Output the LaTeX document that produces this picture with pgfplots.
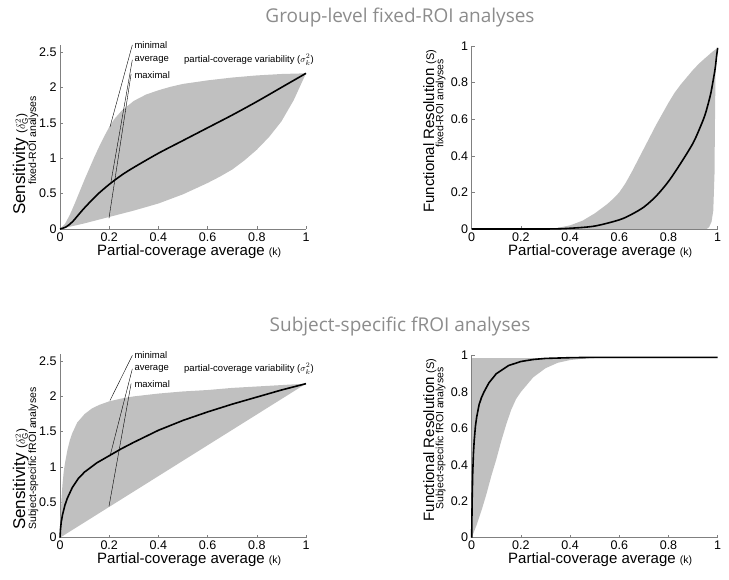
\documentclass[border=0pt]{standalone}
\usepackage{pgfplots}
\pgfplotsset{compat=1.18}
\usepgfplotslibrary{fillbetween}
\usepackage{fontspec}
\setmainfont{Liberation Sans}
\newfontfamily\titlefont{Open Sans}
\definecolor{regionfill}{RGB}{192,192,192}
\definecolor{axgray}{RGB}{128,128,128}
\definecolor{titlegray}{RGB}{140,140,140}
\newcommand{\fs}[1]{\fontsize{#1}{#1}\selectfont}
\tikzset{
  lead/.style={black, line width=0.4pt},
  ann/.style={font=\fs{9.5}, anchor=west, inner sep=1pt},
}
\pgfplotsset{
  panel/.style={
    scale only axis, width=246pt,
    axis lines=left, axis line style={-, axgray, line width=0.6pt},
    tick style={axgray, line width=0.5pt}, tick align=inside, major tick length=3pt,
    xmin=0, xmax=1, xtick={0,0.2,0.4,0.6,0.8,1},
    xticklabels={0,0.2,0.4,0.6,0.8,1},
    ticklabel style={font=\fs{12.5}, /pgf/number format/assume math mode=true},
    clip=false, anchor=south west,
  },
  sens/.style={panel, ymin=0, ymax=2.6, ytick={0,0.5,1,1.5,2,2.5}, yticklabels={0,0.5,1,1.5,2,2.5}},
  fres/.style={panel, ymin=0, ymax=1, ytick={0,0.2,0.4,0.6,0.8,1}, yticklabels={0,0.2,0.4,0.6,0.8,1}},
  meanline/.style={black, line width=1.6pt},
  band/.style={fill=regionfill, draw=none},
}
\begin{document}
\begin{tikzpicture}

% ---------- top-left ----------
\begin{axis}[sens, at={(60pt,351pt)}, height=184pt]
\addplot[name path=up, draw=none] coordinates {(0,0) (0.02,0.07) (0.04,0.2) (0.06,0.36) (0.08,0.53) (0.1,0.7) (0.12,0.86) (0.14,1.02) (0.16,1.17) (0.18,1.31) (0.2,1.44) (0.22,1.55) (0.25,1.67) (0.3,1.81) (0.35,1.9) (0.4,1.96) (0.45,2.01) (0.5,2.05) (0.6,2.1) (0.7,2.14) (0.8,2.17) (0.9,2.19) (1,2.2)};
\addplot[name path=lo, draw=none] coordinates {(0,0) (0.05,0.04) (0.1,0.08) (0.2,0.17) (0.3,0.26) (0.4,0.36) (0.5,0.49) (0.6,0.65) (0.65,0.74) (0.7,0.84) (0.75,0.97) (0.8,1.12) (0.85,1.3) (0.9,1.52) (0.95,1.82) (1,2.2)};
\addplot[band] fill between[of=up and lo];
\addplot[meanline, smooth] coordinates {(0,0) (0.025,0.03) (0.05,0.1) (0.075,0.2) (0.1,0.3) (0.15,0.48) (0.2,0.63) (0.25,0.76) (0.3,0.87) (0.4,1.07) (0.5,1.25) (0.6,1.43) (0.7,1.61) (0.8,1.8) (0.9,2.0) (1,2.2)};
\draw[lead] (axis cs:0.294,2.6) -- (axis cs:0.203,1.44);
\draw[lead] (axis cs:0.294,2.39) -- (axis cs:0.207,0.66);
\draw[lead] (axis cs:0.289,2.19) -- (axis cs:0.199,0.15);
\node[ann] at (axis cs:0.298,2.6) {minimal};
\node[ann] at (axis cs:0.298,2.39) {average};
\node[ann] at (axis cs:0.298,2.18) {maximal};
\node[ann] at (axis cs:0.5,2.39) {partial-coverage variability ($\sigma^2_k$)};
\end{axis}

% ---------- top-right ----------
\begin{axis}[fres, at={(471.7pt,351pt)}, height=183pt]
\addplot[name path=up, draw=none] coordinates {(0,0) (0.3,0) (0.35,0.006) (0.4,0.02) (0.45,0.045) (0.5,0.085) (0.55,0.135) (0.575,0.165) (0.6,0.2) (0.625,0.25) (0.65,0.31) (0.675,0.375) (0.7,0.44) (0.725,0.505) (0.75,0.57) (0.775,0.63) (0.8,0.69) (0.825,0.745) (0.85,0.79) (0.875,0.83) (0.9,0.87) (0.925,0.905) (0.95,0.935) (0.98,0.97) (1,0.99)};
\addplot[name path=lo, draw=none] coordinates {(0,0) (0.955,0) (0.965,0.01) (0.975,0.04) (0.982,0.1) (0.987,0.3) (0.989,0.6) (0.991,0.85) (0.995,0.95) (1,0.99)};
\addplot[band] fill between[of=up and lo];
\addplot[meanline, smooth] coordinates {(0,0) (0.3,0) (0.4,0.004) (0.5,0.016) (0.6,0.05) (0.65,0.08) (0.7,0.12) (0.75,0.18) (0.8,0.26) (0.85,0.36) (0.9,0.47) (0.93,0.56) (0.95,0.63) (0.97,0.73) (0.98,0.8) (0.99,0.88) (0.995,0.94) (1,0.99)};
\end{axis}

% ---------- bottom-left ----------
\begin{axis}[sens, at={(60pt,42.3pt)}, height=183.7pt]
\addplot[name path=up, draw=none] coordinates {(0,0) (0.003,0.3) (0.006,0.55) (0.01,0.75) (0.015,0.93) (0.02,1.05) (0.03,1.24) (0.04,1.38) (0.05,1.48) (0.07,1.63) (0.1,1.75) (0.13,1.83) (0.16,1.88) (0.2,1.93) (0.25,1.97) (0.3,2.0) (0.4,2.04) (0.5,2.07) (0.6,2.09) (0.7,2.12) (0.8,2.14) (0.9,2.16) (1,2.18)};
\addplot[name path=lo, draw=none] coordinates {(0,0) (1,2.18)};
\addplot[band] fill between[of=up and lo];
\addplot[meanline] coordinates {(0,0) (0.002,0.12) (0.005,0.22) (0.01,0.32) (0.02,0.46) (0.03,0.56) (0.05,0.71) (0.075,0.84) (0.1,0.93) (0.15,1.06) (0.2,1.16) (0.25,1.26) (0.3,1.35) (0.4,1.52) (0.5,1.66) (0.6,1.78) (0.7,1.89) (0.8,1.99) (0.9,2.09) (1,2.18)};
\draw[lead] (axis cs:0.294,2.58) -- (axis cs:0.203,1.94);
\draw[lead] (axis cs:0.294,2.39) -- (axis cs:0.203,1.15);
\draw[lead] (axis cs:0.289,2.18) -- (axis cs:0.199,0.44);
\node[ann] at (axis cs:0.298,2.58) {minimal};
\node[ann] at (axis cs:0.298,2.39) {average};
\node[ann] at (axis cs:0.298,2.18) {maximal};
\node[ann] at (axis cs:0.5,2.39) {partial-coverage variability ($\sigma^2_k$)};
\end{axis}

% ---------- bottom-right ----------
\begin{axis}[fres, at={(471.7pt,42.3pt)}, height=182.2pt]
\addplot[name path=up, draw=none] coordinates {(0,0) (0.002,0.985) (1,0.985)};
\addplot[name path=lo, draw=none] coordinates {(0,0) (0.02,0.07) (0.04,0.15) (0.06,0.24) (0.08,0.34) (0.1,0.43) (0.12,0.53) (0.14,0.62) (0.16,0.7) (0.18,0.76) (0.2,0.8) (0.25,0.88) (0.3,0.93) (0.35,0.96) (0.4,0.975) (0.45,0.982) (0.5,0.985) (1,0.985)};
\addplot[band] fill between[of=up and lo];
\addplot[meanline] coordinates {(0,0) (0.001,0.12) (0.002,0.22) (0.004,0.35) (0.007,0.46) (0.01,0.53) (0.015,0.61) (0.02,0.66) (0.03,0.73) (0.04,0.77) (0.05,0.8) (0.07,0.85) (0.1,0.9) (0.15,0.945) (0.2,0.967) (0.25,0.978) (0.3,0.984) (0.4,0.988) (0.5,0.99) (1,0.99)};
\end{axis}

% ---------- titles and labels ----------
\node[anchor=base, text=titlegray, font=\titlefont\fs{19}] at (400pt,557pt) {Group-level fixed-ROI analyses};
\node[anchor=base, text=titlegray, font=\titlefont\fs{19}] at (400pt,248.5pt) {Subject-specific fROI analyses};

\node[anchor=base west, inner sep=0] at (97pt,324pt) {\fs{15}Partial-coverage average \fs{10.5}(k)};
\node[anchor=base west, inner sep=0] at (508pt,324pt) {\fs{15}Partial-coverage average \fs{10.5}(k)};
\node[anchor=base west, inner sep=0] at (97pt,16pt) {\fs{15}Partial-coverage average \fs{10.5}(k)};
\node[anchor=base west, inner sep=0] at (508pt,16pt) {\fs{15}Partial-coverage average \fs{10.5}(k)};

\node[rotate=90, anchor=base west, inner sep=0] at (25pt,365pt) {\fs{17}Sensitivity \fs{12}($\delta^2_{\mathrm{G}}$)};
\node[rotate=90, anchor=base west, inner sep=0] at (36pt,395pt) {\fs{10.5}fixed-ROI analyses};
\node[rotate=90, anchor=base west, inner sep=0] at (25pt,50pt) {\fs{17}Sensitivity \fs{12}($\delta^2_{\mathrm{G}}$)};
\node[rotate=90, anchor=base west, inner sep=0] at (36pt,50pt) {\fs{10.5}Subject-specific fROI analyses};

\node[rotate=90, anchor=base west, inner sep=0] at (434pt,367pt) {\fs{15}Functional Resolution \fs{11}(S)};
\node[rotate=90, anchor=base west, inner sep=0] at (443.3pt,432pt) {\fs{10.5}fixed-ROI analyses};
\node[rotate=90, anchor=base west, inner sep=0] at (434pt,58.3pt) {\fs{15}Functional Resolution \fs{11}(S)};
\node[rotate=90, anchor=base west, inner sep=0] at (443.3pt,70pt) {\fs{10.5}Subject-specific fROI analyses};

\path (0pt,0pt) rectangle (729pt,580pt);
\end{tikzpicture}
\end{document}
